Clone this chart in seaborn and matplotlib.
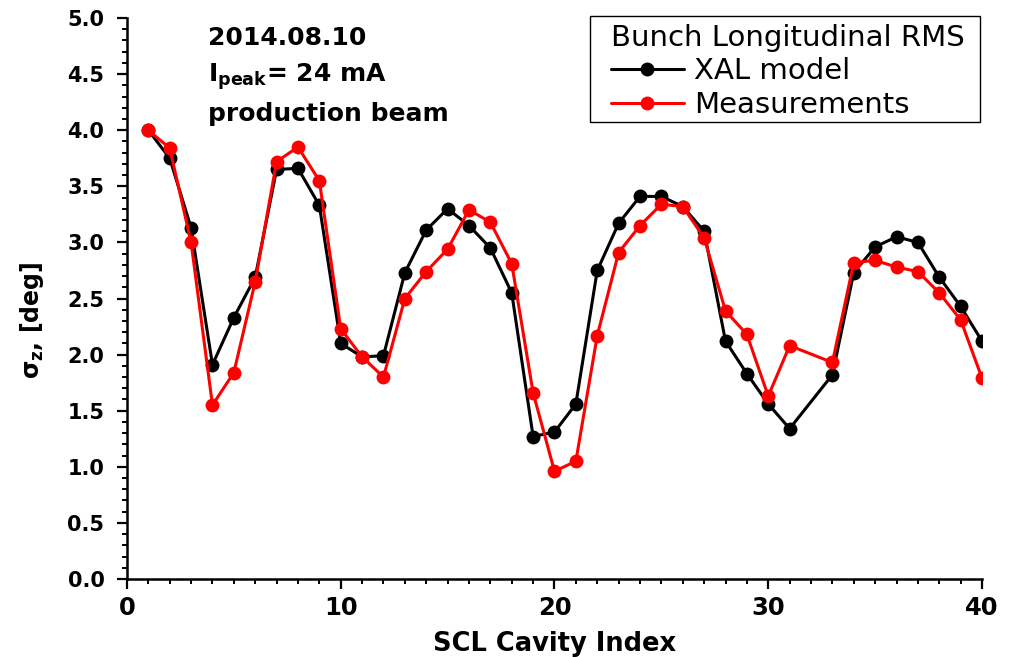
import numpy as np
import pandas as pd
import matplotlib
matplotlib.use("Agg")
import matplotlib.pyplot as plt
from matplotlib.patches import Rectangle
from matplotlib.ticker import MultipleLocator, FormatStrFormatter
import seaborn as sns

# SCL cavity indices (cavity 32 has no entry)
cavity = [1, 2, 3, 4, 5, 6, 7, 8, 9, 10, 11, 12, 13, 14, 15, 16, 17, 18, 19, 20,
          21, 22, 23, 24, 25, 26, 27, 28, 29, 30, 31, 33, 34, 35, 36, 37, 38, 39, 40]

# bunch longitudinal RMS size, deg
xal_model = [4.00, 3.75, 3.13, 1.91, 2.33, 2.69, 3.65, 3.66, 3.33, 2.10,
             1.98, 1.99, 2.73, 3.11, 3.30, 3.15, 2.95, 2.55, 1.27, 1.31,
             1.56, 2.75, 3.17, 3.41, 3.41, 3.32, 3.10, 2.12, 1.83, 1.56,
             1.34, 1.82, 2.73, 2.96, 3.05, 3.00, 2.69, 2.43, 2.12]
measurements = [4.00, 3.84, 3.00, 1.55, 1.84, 2.65, 3.72, 3.85, 3.55, 2.23,
                1.98, 1.80, 2.50, 2.74, 2.94, 3.29, 3.18, 2.81, 1.66, 0.96,
                1.05, 2.17, 2.91, 3.15, 3.34, 3.32, 3.04, 2.39, 2.18, 1.63,
                2.08, 1.93, 2.82, 2.84, 2.78, 2.74, 2.55, 2.31, 1.79]

series_names = ["XAL model", "Measurements"]
series_colors = ["black", "red"]

df = pd.concat([
    pd.DataFrame({"cavity": cavity, "sigma": xal_model, "series": series_names[0]}),
    pd.DataFrame({"cavity": cavity, "sigma": measurements, "series": series_names[1]}),
], ignore_index=True)

sns.set_style("ticks")
plt.rcParams["font.family"] = ["DejaVu Sans"]
plt.rcParams["mathtext.fontset"] = "dejavusans"
for key in ["text.color", "axes.labelcolor", "xtick.color", "ytick.color",
            "axes.edgecolor"]:
    plt.rcParams[key] = "black"

fig = plt.figure(figsize=(10.10, 6.57), dpi=100)
ax = fig.add_axes([0.1257, 0.1187, 0.8466, 0.8539])

sns.lineplot(data=df, x="cavity", y="sigma", hue="series",
             palette=dict(zip(series_names, series_colors)),
             hue_order=series_names, marker="o", markersize=10,
             markeredgewidth=0, linewidth=2.2, ax=ax, legend=False,
             clip_on=True)

ax.set_xlim(0, 40)
ax.set_ylim(0, 5.0)
ax.xaxis.set_major_locator(MultipleLocator(10))
ax.xaxis.set_minor_locator(MultipleLocator(1))
ax.yaxis.set_major_locator(MultipleLocator(0.5))
ax.yaxis.set_minor_locator(MultipleLocator(0.1))
ax.yaxis.set_major_formatter(FormatStrFormatter("%.1f"))

for side in ["top", "right"]:
    ax.spines[side].set_visible(False)
for side in ["left", "bottom"]:
    ax.spines[side].set_linewidth(1.8)

ax.tick_params(which="major", direction="out", length=7.2, width=1.6)
ax.tick_params(which="minor", direction="out", length=3.6, width=1.4)
ax.tick_params(axis="y", which="major", pad=9, labelsize=15)
ax.tick_params(axis="x", which="major", pad=5, labelsize=17.5)
for lab in ax.get_xticklabels() + ax.get_yticklabels():
    lab.set_fontweight("bold")

ax.set_xlabel("SCL Cavity Index", fontsize=18.5, fontweight="bold", labelpad=8)
ax.set_ylabel(r"$\mathbf{\sigma_z}$, [deg]", fontsize=17, fontweight="bold")
ax.yaxis.set_label_coords(-0.095, 0.462)

# run annotation
ann_x = 0.095
ax.text(ann_x, 0.952, "2014.08.10", transform=ax.transAxes, fontsize=18,
        fontweight="bold", va="baseline", ha="left")
ax.text(ann_x, 0.886, r"I$_{\mathbf{peak}}$= 24 mA", transform=ax.transAxes,
        fontsize=18, fontweight="bold", va="baseline", ha="left")
ax.text(ann_x, 0.816, "production beam", transform=ax.transAxes, fontsize=18,
        fontweight="bold", va="baseline", ha="left")

# legend with a separately drawn box around it
ax.add_patch(Rectangle((0.5415, 0.8146), 0.4562, 0.189, transform=ax.transAxes,
                       facecolor="white", edgecolor="black", linewidth=1.0,
                       clip_on=False, zorder=4))
handles = [plt.Line2D([], [], color=c, marker="o", markersize=10,
                      markeredgewidth=0, linewidth=2.2) for c in series_colors]
leg = ax.legend(handles, series_names, title="Bunch Longitudinal RMS",
                loc="upper left", bbox_to_anchor=(0.566, 0.990),
                fontsize=21, title_fontsize=21, frameon=False,
                handlelength=2.5, handletextpad=0.35,
                borderpad=0.0, labelspacing=0.2, borderaxespad=0.0)
leg.set_zorder(5)
leg._legend_box.align = "left"

fig.savefig("out.png", dpi=100, facecolor="white")
